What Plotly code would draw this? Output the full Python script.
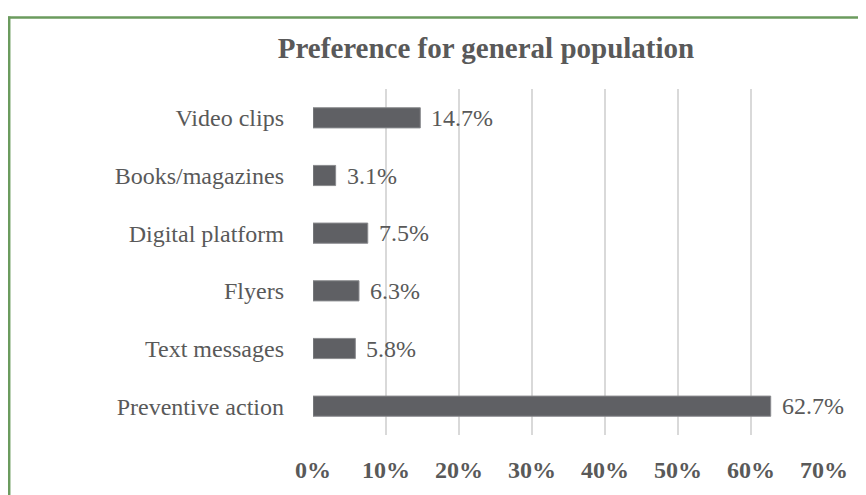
import plotly.graph_objects as go

categories = ["Video clips", "Books/magazines", "Digital platform", "Flyers", "Text messages", "Preventive action"]
values = [14.7, 3.1, 7.5, 6.3, 5.8, 62.7]
tick_vals = [0, 10, 20, 30, 40, 50, 60, 70]
tick_text = ["0%", "10%", "20%", "30%", "40%", "50%", "60%", "70%"]
title_text = "Preference for general population"

TEXT = "#595959"
BAR = "#5f6064"
GRID = "#d9d9d9"
GREEN = "#6b9b5e"
FONT = "Liberation Serif"

# the page body has an 8px margin, so the figure is drawn 8px in from the window edge
OFF = 8
W, H = 866 - OFF, 495 - OFF
ML, MT = 313 - OFF, 89 - OFF
MR = W - (824 - OFF)
MB = H - (435 - OFF)
pw = W - ML - MR
ph = H - MT - MB

fig = go.Figure()
fig.add_trace(go.Bar(
    x=values, y=categories, orientation="h",
    marker=dict(color=BAR, line=dict(color="#8a8b8e", width=1)),
    width=0.35,
    hoverinfo="skip",
))

annotations = []
for c, v in zip(categories, values):
    annotations.append(dict(
        x=v, y=c, xref="x", yref="y", text=f"{v:.1f}%", showarrow=False,
        xanchor="left", yanchor="middle", xshift=9,
        font=dict(family=FONT, size=24, color=TEXT),
    ))

def px_to_paper_x(px):
    return (px - OFF - ML) / pw

def py_to_paper_y(py):
    return (H - MB - (py - OFF)) / ph

shapes = [
    dict(type="line", xref="paper", yref="paper",
         x0=px_to_paper_x(9.2), y0=py_to_paper_y(H + 30),
         x1=px_to_paper_x(9.2), y1=py_to_paper_y(16.5),
         line=dict(color=GREEN, width=2.5)),
    dict(type="line", xref="paper", yref="paper",
         x0=px_to_paper_x(8), y0=py_to_paper_y(17.5),
         x1=px_to_paper_x(W + 30), y1=py_to_paper_y(17.5),
         line=dict(color=GREEN, width=2.5)),
]

fig.update_layout(
    width=W, height=H,
    margin=dict(l=ML, r=MR, t=MT, b=MB),
    paper_bgcolor="white", plot_bgcolor="white",
    showlegend=False,
    title=dict(text=f"<b>{title_text}</b>", xref="container", yref="container",
               x=(486 - OFF) / W, y=1 - (48 - OFF) / H, xanchor="center", yanchor="middle",
               font=dict(family=FONT, size=29, color=TEXT)),
    xaxis=dict(range=[0, 70], tickvals=tick_vals, ticktext=tick_text,
               showgrid=True, gridcolor=GRID, gridwidth=1.5, zeroline=False,
               showline=False, ticks="", ticklabelstandoff=18,
               tickfont=dict(family=FONT, size=24, color=TEXT, weight="bold"),
               fixedrange=True),
    yaxis=dict(categoryorder="array", categoryarray=categories[::-1],
               showgrid=False, zeroline=False, showline=False, ticks="",
               ticklabelstandoff=28,
               tickfont=dict(family=FONT, size=24, color=TEXT),
               fixedrange=True),
    annotations=annotations,
    shapes=shapes,
)

fig.write_html("out.html")
